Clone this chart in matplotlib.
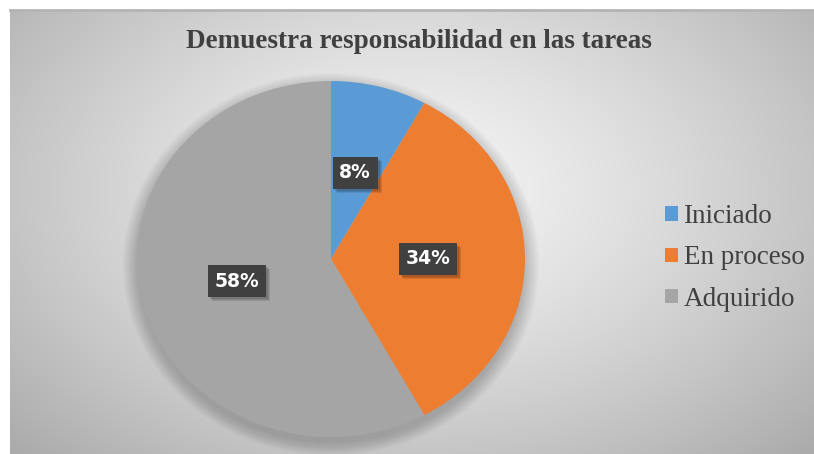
import numpy as np
import matplotlib
matplotlib.use("Agg")
import matplotlib.pyplot as plt
from matplotlib.patches import Ellipse, Rectangle
from matplotlib.transforms import IdentityTransform

# data
labels = ["Iniciado", "En proceso", "Adquirido"]
values = [8, 34, 58]
colors = ["#5b9bd5", "#ed7d31", "#a5a5a5"]
title = "Demuestra responsabilidad en las tareas"

W, H = 814, 454
fig = plt.figure(figsize=(W / 100, H / 100), dpi=100)

# chart area background with radial gradient
bg = fig.add_axes([10 / W, 0, 804 / W, 444 / H])
yy, xx = np.mgrid[0:444, 0:804]
d = np.sqrt(((xx - 403) / 500.0) ** 2 + ((yy - 180) / 330.0) ** 2)
shade = np.clip(0.96 - 0.25 * d ** 1.3, 0, 1)
bg.imshow(np.dstack([shade] * 3), aspect="auto", extent=(0, 1, 0, 1))
bg.plot([0, 1], [1, 1], color="#b4b4b4", lw=2, clip_on=False)
bg.set_axis_off()

fig.text(419 / W, 1 - 42 / H, title, ha="center", va="center",
         fontsize=19.5, fontweight="bold", family="Liberation Serif",
         color="#404040")

# pie axes: center (331, 259), rx 194, ry 178
rx, ry = 194, 178
cx, cy = 331, 259
ax = fig.add_axes([(cx - rx * 1.3) / W, 1 - (cy + ry * 1.3) / H,
                   2.6 * rx / W, 2.6 * ry / H])

# soft shadow behind the pie
for i in range(16):
    ax.add_patch(Ellipse((0.0, -0.03), 2 + 0.01 * i, 2 + 0.01 * i,
                         facecolor="black", alpha=0.012, lw=0, zorder=0))

wedges, texts, autotexts = ax.pie(
    values, colors=colors, startangle=90, counterclock=False,
    autopct="%1.0f%%", pctdistance=0.5,
    textprops=dict(color="white", fontsize=13.5, fontweight="bold",
                   family="DejaVu Sans"),
    wedgeprops=dict(linewidth=0))
for w in wedges:
    w.set_zorder(2)

for t in autotexts:
    t.set_zorder(5)
    t.set_bbox(dict(boxstyle="square,pad=0.35", facecolor="#404040",
                    edgecolor="none"))

ax.set_aspect("auto")
ax.set_xlim(-1.3, 1.3)
ax.set_ylim(-1.3, 1.3)
ax.set_axis_off()

# shadows of the label boxes (pixel coords, below the labels)
fig.canvas.draw()
for t in autotexts:
    bb = t.get_bbox_patch().get_window_extent()
    for k in range(3):
        r = Rectangle((bb.x0 + 2 + k, bb.y0 - 2 - k), bb.width, bb.height,
                      facecolor="black", alpha=0.1, lw=0, zorder=3,
                      transform=IdentityTransform())
        ax.add_artist(r)

fig.legend(wedges, labels, loc="center left",
           bbox_to_anchor=(641 / W, 1 - 258 / H), frameon=False,
           prop=dict(family="Liberation Serif", size=19.5),
           handlelength=0.45, handleheight=0.45, handletextpad=0.22,
           labelspacing=0.6, labelcolor="#404040")

fig.savefig("out.png", dpi=100)
